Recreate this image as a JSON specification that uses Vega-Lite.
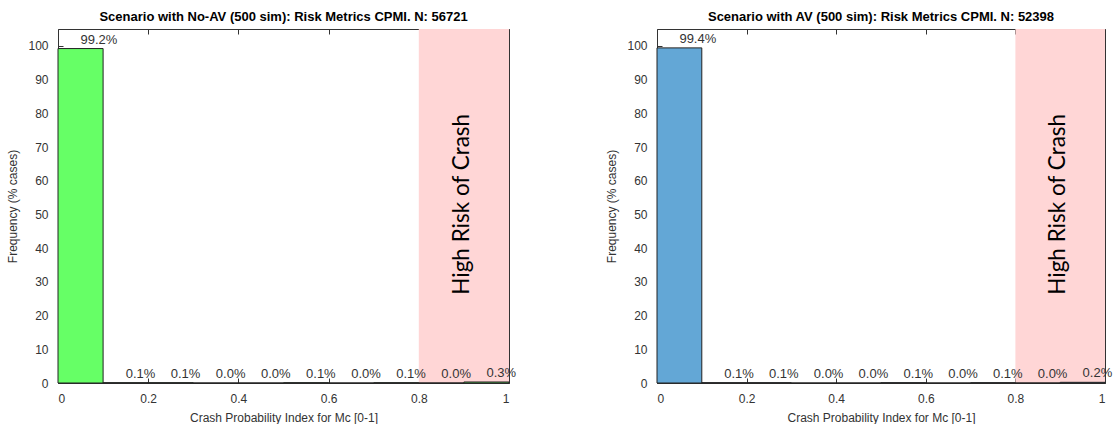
{
  "$schema": "https://vega.github.io/schema/vega-lite/v6.json",
  "background": "white",
  "padding": {"left": 6, "top": 10, "right": 5, "bottom": 0},
  "spacing": 88,
  "config": {
    "font": "Liberation Sans",
    "view": {"stroke": "#333333", "strokeWidth": 1},
    "axis": {
      "domain": false, "grid": false, "ticks": true, "zindex": 1,
      "labelFont": "Liberation Sans", "labelFontSize": 12, "labelColor": "#333333",
      "tickColor": "#333333", "tickSize": -5, "tickWidth": 1,
      "titleFont": "Liberation Sans", "titleFontSize": 12, "titleFontWeight": "normal", "titleColor": "#333333"
    },
    "axisY": {"labelPadding": 15, "titlePadding": 8},
    "axisX": {"labelPadding": 15, "titlePadding": 8},
    "title": {"font": "Liberation Sans", "fontSize": 13, "fontWeight": "bold", "color": "#000000", "anchor": "middle", "offset": 5}
  },
  "datasets": {
    "noav": [
      {"start": 0.0, "end": 0.1, "mid": 0.05, "pct": 99.2, "label": "99.2%"},
      {"start": 0.1, "end": 0.2, "mid": 0.15, "pct": 0.1, "label": "0.1%"},
      {"start": 0.2, "end": 0.3, "mid": 0.25, "pct": 0.1, "label": "0.1%"},
      {"start": 0.3, "end": 0.4, "mid": 0.35, "pct": 0.0, "label": "0.0%"},
      {"start": 0.4, "end": 0.5, "mid": 0.45, "pct": 0.0, "label": "0.0%"},
      {"start": 0.5, "end": 0.6, "mid": 0.55, "pct": 0.1, "label": "0.1%"},
      {"start": 0.6, "end": 0.7, "mid": 0.65, "pct": 0.0, "label": "0.0%"},
      {"start": 0.7, "end": 0.8, "mid": 0.75, "pct": 0.1, "label": "0.1%"},
      {"start": 0.8, "end": 0.9, "mid": 0.85, "pct": 0.0, "label": "0.0%"},
      {"start": 0.9, "end": 1.0, "mid": 0.95, "pct": 0.3, "label": "0.3%"}
    ],
    "av": [
      {"start": 0.0, "end": 0.1, "mid": 0.05, "pct": 99.4, "label": "99.4%"},
      {"start": 0.1, "end": 0.2, "mid": 0.15, "pct": 0.1, "label": "0.1%"},
      {"start": 0.2, "end": 0.3, "mid": 0.25, "pct": 0.1, "label": "0.1%"},
      {"start": 0.3, "end": 0.4, "mid": 0.35, "pct": 0.0, "label": "0.0%"},
      {"start": 0.4, "end": 0.5, "mid": 0.45, "pct": 0.0, "label": "0.0%"},
      {"start": 0.5, "end": 0.6, "mid": 0.55, "pct": 0.1, "label": "0.1%"},
      {"start": 0.6, "end": 0.7, "mid": 0.65, "pct": 0.0, "label": "0.0%"},
      {"start": 0.7, "end": 0.8, "mid": 0.75, "pct": 0.1, "label": "0.1%"},
      {"start": 0.8, "end": 0.9, "mid": 0.85, "pct": 0.0, "label": "0.0%"},
      {"start": 0.9, "end": 1.0, "mid": 0.95, "pct": 0.2, "label": "0.2%"}
    ],
    "zone": [
      {"zone": "High Risk of Crash", "from": 0.8, "to": 1.0, "center": 0.895, "level": 53}
    ]
  },
  "hconcat": [
    {
      "width": 451, "height": 354,
      "title": "Scenario with No-AV (500 sim): Risk Metrics CPMI. N: 56721",
      "data": {"name": "noav"},
      "resolve": {"axis": {"x": "independent", "y": "independent"}},
      "layer": [
        {
          "data": {"name": "zone"},
          "mark": {"type": "rect", "color": "#FFD6D6"},
          "encoding": {
            "x": {"field": "from", "type": "quantitative", "axis": null},
            "x2": {"field": "to"}
          }
        },
        {
          "mark": {"type": "bar", "color": "#66FF66", "stroke": "#222222", "strokeWidth": 1},
          "encoding": {
            "x": {"field": "start", "type": "quantitative", "scale": {"domain": [0, 1], "nice": false, "zero": false},
                  "axis": {"title": "Crash Probability Index for Mc [0-1]", "values": [0, 0.2, 0.4, 0.6, 0.8, 1], "format": "~g", "orient": "bottom"}},
            "x2": {"field": "end"},
            "y": {"field": "pct", "type": "quantitative", "scale": {"domain": [0, 105], "nice": false},
                  "axis": {"title": "Frequency (% cases)", "values": [0, 10, 20, 30, 40, 50, 60, 70, 80, 90, 100], "orient": "left"}},
            "y2": {"datum": 0}
          }
        },
        {
          "mark": {"type": "text", "align": "left", "baseline": "alphabetic", "dy": -5, "fontSize": 13, "color": "#333333", "font": "Liberation Sans"},
          "encoding": {
            "x": {"field": "mid", "type": "quantitative", "axis": null},
            "y": {"field": "pct", "type": "quantitative", "axis": null},
            "text": {"field": "label"}
          }
        },
        {
          "data": {"name": "zone"},
          "mark": {"type": "text", "angle": 270, "align": "center", "baseline": "middle", "fontSize": 22.5, "font": "Lato", "color": "#000000"},
          "encoding": {
            "x": {"field": "center", "type": "quantitative", "axis": null},
            "y": {"field": "level", "type": "quantitative", "axis": null},
            "text": {"field": "zone"}
          }
        },
        {
          "mark": {"type": "point", "opacity": 0},
          "encoding": {
            "x": {"field": "start", "type": "quantitative", "axis": {"orient": "top", "labels": false, "title": null, "values": [0, 0.2, 0.4, 0.6, 0.8, 1]}},
            "y": {"field": "pct", "type": "quantitative", "axis": {"orient": "right", "labels": false, "title": null, "values": [0, 10, 20, 30, 40, 50, 60, 70, 80, 90, 100]}}
          }
        }
      ]
    },
    {
      "width": 448, "height": 354,
      "title": "Scenario with AV (500 sim): Risk Metrics CPMI. N: 52398",
      "data": {"name": "av"},
      "resolve": {"axis": {"x": "independent", "y": "independent"}},
      "layer": [
        {
          "data": {"name": "zone"},
          "mark": {"type": "rect", "color": "#FFD6D6"},
          "encoding": {
            "x": {"field": "from", "type": "quantitative", "axis": null},
            "x2": {"field": "to"}
          }
        },
        {
          "mark": {"type": "bar", "color": "#63A7D6", "stroke": "#222222", "strokeWidth": 1},
          "encoding": {
            "x": {"field": "start", "type": "quantitative", "scale": {"domain": [0, 1], "nice": false, "zero": false},
                  "axis": {"title": "Crash Probability Index for Mc [0-1]", "values": [0, 0.2, 0.4, 0.6, 0.8, 1], "format": "~g", "orient": "bottom"}},
            "x2": {"field": "end"},
            "y": {"field": "pct", "type": "quantitative", "scale": {"domain": [0, 105], "nice": false},
                  "axis": {"title": "Frequency (% cases)", "values": [0, 10, 20, 30, 40, 50, 60, 70, 80, 90, 100], "orient": "left"}},
            "y2": {"datum": 0}
          }
        },
        {
          "mark": {"type": "text", "align": "left", "baseline": "alphabetic", "dy": -5, "fontSize": 13, "color": "#333333", "font": "Liberation Sans"},
          "encoding": {
            "x": {"field": "mid", "type": "quantitative", "axis": null},
            "y": {"field": "pct", "type": "quantitative", "axis": null},
            "text": {"field": "label"}
          }
        },
        {
          "data": {"name": "zone"},
          "mark": {"type": "text", "angle": 270, "align": "center", "baseline": "middle", "fontSize": 22.5, "font": "Lato", "color": "#000000"},
          "encoding": {
            "x": {"field": "center", "type": "quantitative", "axis": null},
            "y": {"field": "level", "type": "quantitative", "axis": null},
            "text": {"field": "zone"}
          }
        },
        {
          "mark": {"type": "point", "opacity": 0},
          "encoding": {
            "x": {"field": "start", "type": "quantitative", "axis": {"orient": "top", "labels": false, "title": null, "values": [0, 0.2, 0.4, 0.6, 0.8, 1]}},
            "y": {"field": "pct", "type": "quantitative", "axis": {"orient": "right", "labels": false, "title": null, "values": [0, 10, 20, 30, 40, 50, 60, 70, 80, 90, 100]}}
          }
        }
      ]
    }
  ]
}
